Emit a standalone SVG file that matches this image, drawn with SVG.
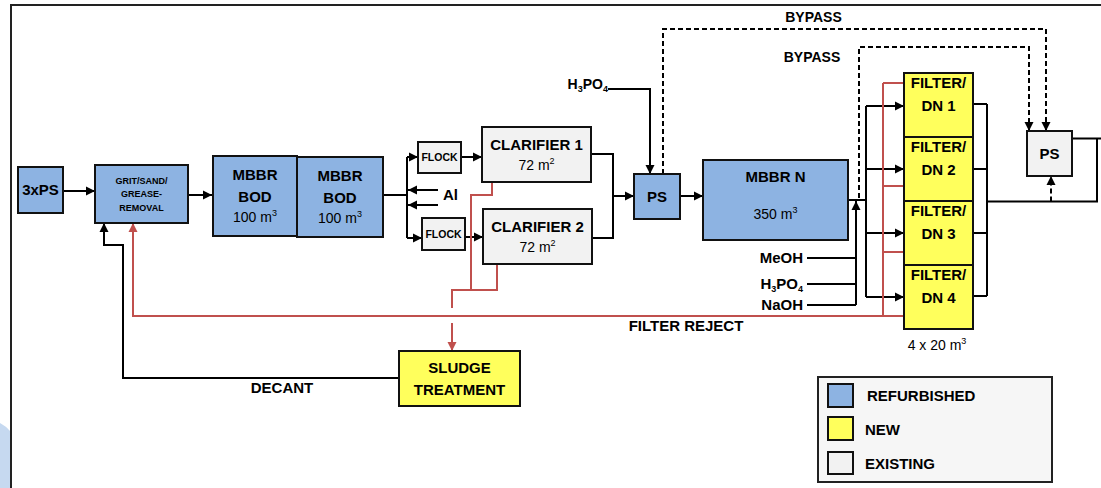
<svg xmlns="http://www.w3.org/2000/svg" width="1101" height="488" viewBox="0 0 1101 488">
<style>
.b{stroke:#111;stroke-width:2}
.blue{fill:#8db3e2}
.yel{fill:#ffff5c}
.gry{fill:#f2f2f2}
.t{font-family:"Liberation Sans",Arial,sans-serif;font-weight:bold;font-size:15px;fill:#000;text-anchor:middle}
.n{font-family:"Liberation Sans",Arial,sans-serif;font-weight:normal;font-size:14px;fill:#000;text-anchor:middle}
.c{fill:none;stroke:#000;stroke-width:2}
.d{fill:none;stroke:#000;stroke-width:2;stroke-dasharray:5 3}
.r{fill:none;stroke:#c0504d;stroke-width:2}
</style>
<defs>
<marker id="ab" markerUnits="userSpaceOnUse" markerWidth="10" markerHeight="10" refX="9" refY="5" orient="auto"><path d="M0,0.5 L9,5 L0,9.5 z" fill="#000"/></marker>
<marker id="ar" markerUnits="userSpaceOnUse" markerWidth="10" markerHeight="10" refX="9" refY="5" orient="auto"><path d="M0,0.5 L9,5 L0,9.5 z" fill="#c0504d"/></marker>
</defs>
<rect width="1101" height="488" fill="#fff"/>
<path d="M0,423 Q6,426 11,432 V488 H0 z" fill="#c6d9f0"/>
<path d="M11,488 V5 H1101" fill="none" stroke="#222" stroke-width="2"/>

<g id="connectors">
<path class="c" d="M63,191 H95" marker-end="url(#ab)"/>
<path class="c" d="M188,195 H212" marker-end="url(#ab)"/>
<path class="c" d="M383,195 H407 M407,157 V238"/>
<path class="c" d="M407,157 H418" marker-end="url(#ab)"/>
<path class="c" d="M407,238 H422" marker-end="url(#ab)"/>
<path class="c" d="M438,190 H408" marker-end="url(#ab)"/>
<path class="c" d="M438,205 H408" marker-end="url(#ab)"/>
<path class="c" d="M461,157 H482" marker-end="url(#ab)"/>
<path class="c" d="M465,237 H483" marker-end="url(#ab)"/>
<path class="c" d="M591,154 H613 V238 H592"/>
<path class="c" d="M613,196 H634" marker-end="url(#ab)"/>
<path class="c" d="M608,89 H650 V174" marker-end="url(#ab)"/>
<path class="c" d="M680,196 H703" marker-end="url(#ab)"/>
<path class="c" d="M848,200 H866 M866,106 V297"/>
<path class="c" d="M866,106 H904" marker-end="url(#ab)"/>
<path class="c" d="M866,169 H904" marker-end="url(#ab)"/>
<path class="c" d="M866,233 H904" marker-end="url(#ab)"/>
<path class="c" d="M866,297 H904" marker-end="url(#ab)"/>
<path class="c" d="M807,258 H856 M807,284 H856 M807,305 H856"/>
<path class="c" d="M856,305 V201" marker-end="url(#ab)"/>
<path class="c" d="M973,104 H987 M973,169 H987 M973,233 H987 M973,296 H987 M987,104 V296 M987,201.5 H1097 V138.5 M1072,138.5 H1101"/>
<path class="d" d="M1051,201.5 V176" marker-end="url(#ab)"/>
<path class="d" d="M663,174 V29 H1046 V131" marker-end="url(#ab)"/>
<path class="d" d="M859,198 V47 H1029 V131" marker-end="url(#ab)"/>
<path class="c" d="M399,378 H123 V245 H104 V223" marker-end="url(#ab)"/>
<path class="r" d="M883,83 V316 M883,83 H904 M883,186 H904 M883,252 H904"/>
<path class="r" d="M904,316 H133 V223" marker-end="url(#ar)"/>
<path class="r" d="M492,182 V195 H471 V290 M497,264 V290 H452 V308"/>
<path class="r" d="M452,323 V351" marker-end="url(#ar)"/>
</g>

<g id="n3xps"><rect class="b blue" x="18" y="167" width="45" height="46"/><text class="t" x="40.5" y="195">3xPS</text></g>
<g id="grit"><rect class="b blue" x="95" y="165" width="93" height="58"/>
<text class="t" style="font-size:9px" x="141.5" y="184">GRIT/SAND/</text>
<text class="t" style="font-size:9px" x="141.5" y="197">GREASE-</text>
<text class="t" style="font-size:9px" x="141.5" y="211">REMOVAL</text></g>
<g id="mbbr1"><rect class="b blue" x="213" y="156" width="84" height="80"/>
<text class="t" x="255" y="180">MBBR</text><text class="t" x="255" y="202">BOD</text>
<text class="n" x="255" y="222">100 m<tspan font-size="9" dy="-6">3</tspan></text></g>
<g id="mbbr2"><rect class="b blue" x="297" y="157" width="86" height="80"/>
<text class="t" x="340" y="181">MBBR</text><text class="t" x="340" y="203">BOD</text>
<text class="n" x="340" y="223">100 m<tspan font-size="9" dy="-6">3</tspan></text></g>
<g id="flock1"><rect class="b gry" x="418" y="142" width="43" height="31"/><text class="t" style="font-size:10.5px" x="439.5" y="161">FLOCK</text></g>
<g id="flock2"><rect class="b gry" x="422" y="218" width="43" height="32"/><text class="t" style="font-size:10.5px" x="443.5" y="238">FLOCK</text></g>
<g id="al"><text class="t" style="text-anchor:start" x="443" y="200">Al</text></g>
<g id="clar1"><rect class="b gry" x="482" y="127" width="109" height="55"/>
<text class="t" x="536.5" y="150">CLARIFIER 1</text>
<text class="n" x="536.5" y="170">72 m<tspan font-size="9" dy="-6">2</tspan></text></g>
<g id="clar2"><rect class="b gry" x="483" y="209" width="109" height="55"/>
<text class="t" x="537.5" y="232">CLARIFIER 2</text>
<text class="n" x="537.5" y="252">72 m<tspan font-size="9" dy="-6">2</tspan></text></g>
<g id="h3po4a"><text class="t" style="font-size:14px;text-anchor:end" x="608" y="89">H<tspan font-size="9" dy="3">3</tspan><tspan dy="-3">PO</tspan><tspan font-size="9" dy="3">4</tspan></text></g>
<g id="ps1"><rect class="b blue" x="634" y="174" width="46" height="45"/><text class="t" x="657" y="202">PS</text></g>
<g id="mbbrn"><rect class="b blue" x="703" y="160" width="145" height="80"/>
<text class="t" x="775.5" y="182">MBBR N</text>
<text class="n" x="775.5" y="219">350 m<tspan font-size="9" dy="-6">3</tspan></text></g>
<g id="chem">
<text class="t" style="text-anchor:end" x="803" y="263">MeOH</text>
<text class="t" style="text-anchor:end" x="803" y="289">H<tspan font-size="9" dy="3">3</tspan><tspan dy="-3">PO</tspan><tspan font-size="9" dy="3">4</tspan></text>
<text class="t" style="text-anchor:end" x="803" y="310">NaOH</text></g>
<g id="bypass"><text class="t" style="font-size:14px" x="813.5" y="22">BYPASS</text><text class="t" style="font-size:14px" x="812" y="62">BYPASS</text></g>
<g id="dn1"><rect class="b yel" x="904" y="73" width="69" height="64"/><text class="t" x="938.5" y="88">FILTER/</text><text class="t" x="938.5" y="111">DN 1</text></g>
<g id="dn2"><rect class="b yel" x="904" y="137" width="69" height="64"/><text class="t" x="938.5" y="152">FILTER/</text><text class="t" x="938.5" y="175">DN 2</text></g>
<g id="dn3"><rect class="b yel" x="904" y="201" width="69" height="64"/><text class="t" x="938.5" y="216">FILTER/</text><text class="t" x="938.5" y="239">DN 3</text></g>
<g id="dn4"><rect class="b yel" x="904" y="265" width="69" height="64"/><text class="t" x="938.5" y="280">FILTER/</text><text class="t" x="938.5" y="303">DN 4</text></g>
<g id="filtvol"><text class="n" x="937" y="350">4 x 20 m<tspan font-size="9" dy="-6">3</tspan></text></g>
<g id="ps2"><rect class="b gry" x="1027" y="131" width="45" height="45"/><text class="t" x="1049.5" y="159">PS</text></g>
<g id="sludge"><rect class="b yel" x="399" y="351" width="121" height="55"/><text class="t" x="459.5" y="373">SLUDGE</text><text class="t" x="459.5" y="395">TREATMENT</text></g>
<g id="labels"><text class="t" x="686" y="331">FILTER REJECT</text><text class="t" x="282" y="393">DECANT</text></g>
<g id="legend"><rect x="818" y="377" width="234" height="105" fill="#f6f6f6" stroke="#222" stroke-width="2"/>
<rect class="b blue" x="828" y="384" width="25" height="23"/>
<rect class="b yel" x="828" y="417" width="25" height="23"/>
<rect class="b gry" x="828" y="452" width="25" height="22"/>
<text class="t" style="text-anchor:start" x="867" y="401">REFURBISHED</text>
<text class="t" style="text-anchor:start" x="865" y="435">NEW</text>
<text class="t" style="text-anchor:start" x="865" y="469">EXISTING</text></g>
</svg>
